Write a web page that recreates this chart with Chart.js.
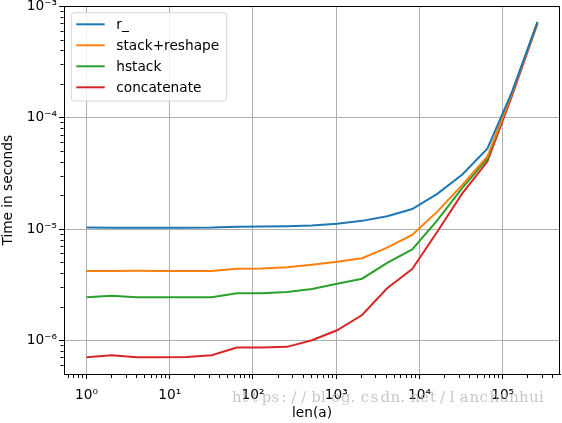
<!DOCTYPE html>
<html>
<head>
<meta charset="utf-8">
<script src="https://cdn.jsdelivr.net/npm/chart.js@4.4.0/dist/chart.umd.min.js"></script>
<style>
    html, body { margin: 0; padding: 0; background: #fff; }
    #wrap { width: 562px; height: 423px; }
</style>
</head>
<body>
<div id="wrap"><canvas id="myChart" width="562" height="423"></canvas></div>
<script>
// array lengths, 2^0 .. 2^18
const lens = [1, 2, 4, 8, 16, 32, 64, 128, 256, 512, 1024, 2048, 4096, 8192,
    16384, 32768, 65536, 131072, 262144];

// timings in seconds
const rUnderscore = [1.04e-5, 1.03e-5, 1.03e-5, 1.03e-5, 1.03e-5, 1.035e-5, 1.055e-5, 1.06e-5,
    1.065e-5, 1.08e-5, 1.12e-5, 1.19e-5, 1.31e-5, 1.52e-5, 2.08e-5, 3.1e-5, 5.3e-5, 1.75e-4, 7.2e-4];
const stackReshape = [4.22e-6, 4.22e-6, 4.24e-6, 4.22e-6, 4.22e-6, 4.22e-6, 4.43e-6, 4.45e-6,
    4.57e-6, 4.8e-6, 5.1e-6, 5.5e-6, 6.85e-6, 8.9e-6, 1.44e-5, 2.5e-5, 4.5e-5, 1.7e-4, 7.2e-4];
const hstack = [2.45e-6, 2.53e-6, 2.45e-6, 2.45e-6, 2.45e-6, 2.45e-6, 2.66e-6, 2.66e-6,
    2.73e-6, 2.91e-6, 3.24e-6, 3.6e-6, 5.0e-6, 6.6e-6, 1.2e-5, 2.35e-5, 4.3e-5, 1.72e-4, 7.3e-4];
const concatenate = [7.1e-7, 7.4e-7, 7.1e-7, 7.1e-7, 7.15e-7, 7.4e-7, 8.66e-7, 8.7e-7,
    8.8e-7, 1.01e-6, 1.24e-6, 1.7e-6, 2.95e-6, 4.4e-6, 9.5e-6, 2.1e-5, 4.05e-5, 1.62e-4, 7.0e-4];

const seriesNames = ["r_", "stack+reshape", "hstack", "concatenate"];
const seriesValues = [rUnderscore, stackReshape, hstack, concatenate];
const seriesColors = ["#1f77b4", "#ff7f0e", "#2ca02c", "#d62728"];

// decades used for tick marks (labels only on powers of ten)
const xDecades = [0.1, 1, 10, 100, 1e3, 1e4, 1e5];
const yDecades = [1e-7, 1e-6, 1e-5, 1e-4, 1e-3];
const xLimits = [0.536, 4.89e5];
const yLimits = [5.02e-7, 1e-3];

const xTitle = "len(a)";
const yTitle = "Time in seconds";
const watermark = "https://blog.csdn.net/lanchunhui";

const FONT = "'DejaVu Sans', sans-serif";
const SUP = { "0": "\u2070", "1": "\u00b9", "2": "\u00b2", "3": "\u00b3", "4": "\u2074",
    "5": "\u2075", "6": "\u2076", "7": "\u2077", "8": "\u2078", "9": "\u2079", "-": "\u207b" };

function isMajor(v) {
    const l = Math.log10(v);
    return Math.abs(l - Math.round(l)) < 1e-6;
}
function powLabel(v) {
    if (!isMajor(v)) return "";
    return "10" + String(Math.round(Math.log10(v))).split("").map(c => SUP[c]).join("");
}
function logTicks(decades, lims) {
    const out = [];
    decades.forEach(d => {
        for (let k = 1; k < 10; k++) {
            const v = d * k;
            if (v >= lims[0] && v <= lims[1] * 1.0001) out.push(v);
        }
    });
    return out;
}

function gridOpts(minorDash) {
    return {
        color: c => (c.tick && isMajor(c.tick.value)) ? "#b0b0b0" : "rgba(0,0,0,0)",
        lineWidth: 1,
        tickColor: "#000",
        tickLength: 5,
        tickWidth: 1,
        tickBorderDash: c => (c.tick && isMajor(c.tick.value)) ? [] : minorDash,
    };
}

const frame = {
    id: "frame",
    afterDatasetsDraw(chart) {
        const { ctx, chartArea: a } = chart;
        ctx.save();
        ctx.strokeStyle = "#000";
        ctx.lineWidth = 1;
        ctx.beginPath();
        ctx.moveTo(a.left, a.top);
        ctx.lineTo(a.right - 0.5, a.top);
        ctx.lineTo(a.right - 0.5, a.bottom);
        ctx.stroke();
        ctx.restore();
    },
};

const legendBox = {
    id: "legendBox",
    afterDraw(chart) {
        const { ctx, chartArea: a } = chart;
        const x0 = a.left + 7.3, y0 = a.top + 6.2, w = 155.4, h = 88.3;
        ctx.save();
        ctx.beginPath();
        ctx.roundRect(x0, y0, w, h, 3);
        ctx.fillStyle = "rgba(255,255,255,0.8)";
        ctx.fill();
        ctx.strokeStyle = "#d6d6d6";
        ctx.lineWidth = 1;
        ctx.stroke();
        ctx.font = "13.7px " + FONT;
        ctx.textBaseline = "alphabetic";
        ctx.textAlign = "left";
        chart.data.datasets.forEach((ds, i) => {
            const y = y0 + 11.6 + i * 21;
            ctx.strokeStyle = ds.borderColor;
            ctx.lineWidth = 2;
            ctx.beginPath();
            ctx.moveTo(x0 + 5, y);
            ctx.lineTo(x0 + 33.4, y);
            ctx.stroke();
            ctx.fillStyle = "#000";
            ctx.fillText(ds.label, x0 + 45, y + 5);
        });
        ctx.restore();
    },
};

const stamp = {
    id: "stamp",
    afterDraw(chart) {
        const ctx = chart.ctx;
        ctx.save();
        ctx.font = "15px 'DejaVu Serif', serif";
        ctx.textBaseline = "alphabetic";
        ctx.textAlign = "left";
        ctx.fillStyle = "rgba(175,175,175,0.7)";
        watermark.split("").forEach((ch, i) => ctx.fillText(ch, 232 + i * 9.9, 401.7));
        ctx.restore();
    },
};

Chart.defaults.font.family = FONT;
Chart.defaults.font.size = 13.7;
Chart.defaults.color = "#000";

new Chart(document.getElementById("myChart").getContext("2d"), {
    type: "line",
    data: {
        datasets: seriesNames.map((name, i) => ({
            label: name,
            data: lens.map((x, j) => ({ x: x, y: seriesValues[i][j] })),
            borderColor: seriesColors[i],
            backgroundColor: seriesColors[i],
            borderWidth: 2,
            pointRadius: 0,
            tension: 0,
            fill: false,
        })),
    },
    options: {
        responsive: false,
        animation: false,
        layout: { padding: { left: 0, right: 2, top: 6.5, bottom: 0 } },
        plugins: { legend: { display: false }, tooltip: { enabled: false } },
        scales: {
            x: {
                type: "logarithmic",
                min: xLimits[0],
                max: xLimits[1],
                afterBuildTicks: s => { s.ticks = logTicks(xDecades, xLimits).map(v => ({ value: v })); },
                afterFit: s => { s.height = 49; s.paddingLeft = 0; s.paddingRight = 0; },
                ticks: { autoSkip: false, maxRotation: 0, padding: 8, callback: v => powLabel(v) },
                grid: gridOpts([3, 100]),
                border: { color: "#000", width: 1 },
                title: { display: true, text: xTitle, padding: { top: 0, bottom: 1 } },
            },
            y: {
                type: "logarithmic",
                min: yLimits[0],
                max: yLimits[1],
                afterBuildTicks: s => { s.ticks = logTicks(yDecades, yLimits).map(v => ({ value: v })); },
                afterFit: s => { s.width = 64; s.paddingTop = 0; s.paddingBottom = 0; },
                ticks: { autoSkip: false, padding: 2, callback: v => powLabel(v) },
                grid: gridOpts([0, 1.5, 3, 100]),
                border: { color: "#000", width: 1 },
                title: { display: true, text: yTitle, padding: { top: 0, bottom: 0 } },
            },
        },
    },
    plugins: [frame, legendBox, stamp],
});
</script>
</body>
</html>
